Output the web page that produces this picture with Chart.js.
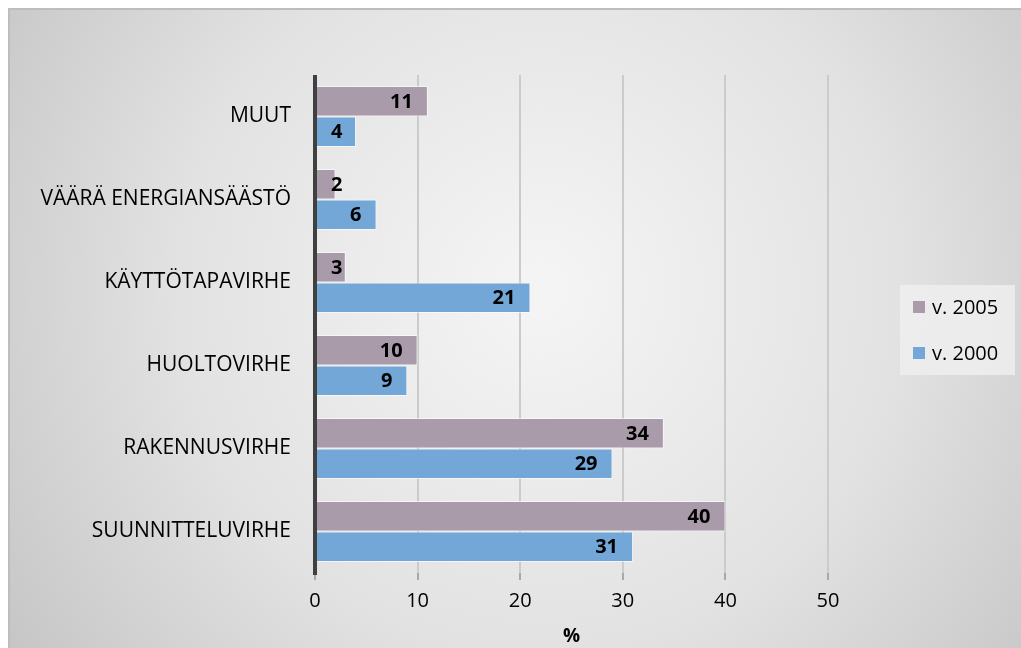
<!DOCTYPE html>
<html><head><meta charset="utf-8">
<script src="https://cdn.jsdelivr.net/npm/chart.js@4/dist/chart.umd.min.js"></script>
<style>html,body{margin:0;padding:0;background:#fff}#wrap{width:1021px;height:648px;position:relative}</style>
</head><body><div id="wrap"><canvas id="c" width="1021" height="648"></canvas></div>
<script>
const categories = ["MUUT","VÄÄRÄ ENERGIANSÄÄSTÖ","KÄYTTÖTAPAVIRHE","HUOLTOVIRHE","RAKENNUSVIRHE","SUUNNITTELUVIRHE"];
const series2005 = [11,2,3,10,34,40];
const series2000 = [4,6,21,9,29,31];
const seriesNames = ["v. 2005","v. 2000"];
const xTicks = [0,10,20,30,40,50];
const axisTitle = "%";

const FONT = "'Open Sans', 'Liberation Sans', sans-serif";
const COLORS = ['#a99ba9','#72a7d8'];

const bgPlugin = {
  id:'bg',
  beforeDraw(chart){
    const ctx = chart.ctx, w = chart.width, h = chart.height;
    ctx.save();
    ctx.fillStyle = '#ffffff';
    ctx.fillRect(0,0,w,h);
    const g = ctx.createRadialGradient(540,290,20,540,290,640);
    g.addColorStop(0,'#f4f4f4');
    g.addColorStop(0.55,'#e2e2e2');
    g.addColorStop(1,'#c6c6c6');
    ctx.fillStyle = g;
    ctx.fillRect(8,8,w-8,h-8);
    ctx.fillStyle = '#bdbdbd';
    ctx.fillRect(8,8,w-8,2);
    ctx.fillRect(8,8,2,h-8);
    ctx.fillStyle = 'rgba(238,238,238,0.85)';
    ctx.fillRect(900,285,115,90);
    ctx.restore();
  },
  afterDatasetsDraw(chart){
    const ctx = chart.ctx;
    const x = chart.scales.x;
    const x0 = x.getPixelForValue(0);
    ctx.save();
    ctx.fillStyle = '#404040';
    ctx.fillRect(x0-2, chart.chartArea.top, 4, chart.chartArea.bottom - chart.chartArea.top + 2);
    ctx.font = "bold 20px " + FONT;
    ctx.fillStyle = '#000';
    ctx.textAlign = 'right';
    ctx.textBaseline = 'middle';
    chart.data.datasets.forEach((ds,di)=>{
      const meta = chart.getDatasetMeta(di);
      meta.data.forEach((bar,i)=>{
        const t = String(ds.data[i]);
        const tw = ctx.measureText(t).width;
        const right = Math.max(bar.x - 15, x0 + 16 + tw);
        ctx.fillText(t, right, bar.y + 1);
      });
    });
    ctx.font = "20px " + FONT;
    ctx.textAlign = 'left';
    seriesNames.forEach((n,i)=>{
      const yy = 307 + i*46;
      ctx.fillStyle = COLORS[i];
      ctx.fillRect(913, yy-6, 12, 12);
      ctx.fillStyle = '#000';
      ctx.fillText(n, 932, yy+1);
    });
    ctx.restore();
  }
};

new Chart(document.getElementById('c'), {
  type:'bar',
  data:{
    labels: categories,
    datasets:[
      {label:seriesNames[0], data:series2005, backgroundColor:COLORS[0], borderColor:'rgba(255,255,255,0.6)', borderWidth:1, borderSkipped:'start'},
      {label:seriesNames[1], data:series2000, backgroundColor:COLORS[1], borderColor:'rgba(255,255,255,0.6)', borderWidth:1, borderSkipped:'start'}
    ]
  },
  plugins:[bgPlugin],
  options:{
    indexAxis:'y',
    responsive:false,
    animation:false,
    devicePixelRatio:1,
    categoryPercentage:0.735,
    barPercentage:1.0,
    layout:{padding:{top:75,right:193,bottom:0,left:0}},
    scales:{
      x:{
        min:0,max:50,
        afterBuildTicks(s){ s.ticks = xTicks.map(v=>({value:v})); },
        afterFit(s){ s.height = 75; },
        grid:{color:'#cbcbcb', lineWidth:2, drawTicks:true, tickLength:7, tickColor:'#a8a8a8'},
        border:{display:false},
        ticks:{color:'#000', font:{size:20, family:FONT}, padding:9},
        title:{display:true, text:axisTitle, color:'#000', font:{size:19, weight:'bold', family:FONT}, padding:{top:4,bottom:0}}
      },
      y:{
        afterFit(s){ s.width = 315; },
        grid:{display:false, drawTicks:false},
        border:{display:false},
        ticks:{color:'#000', font:{size:21, family:FONT}, padding:24}
      }
    },
    plugins:{
      legend:{display:false},
      tooltip:{enabled:false}
    }
  }
});
</script></body></html>
